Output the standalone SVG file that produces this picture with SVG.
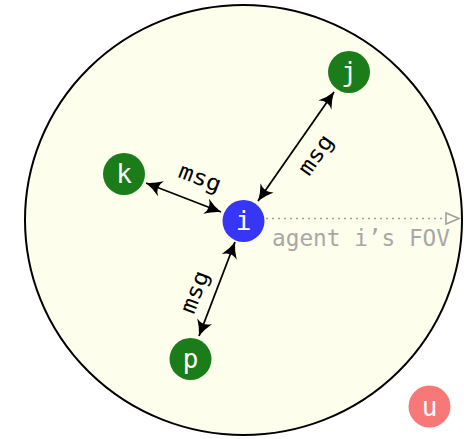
<svg xmlns="http://www.w3.org/2000/svg" width="464" height="439" viewBox="0 0 464 439">
<defs>
<style>
.node{stroke:none}
.lbl{font-family:"DejaVu Sans Mono",monospace;font-size:26px;fill:#ffffff;text-anchor:middle}
.msg{font-family:"DejaVu Sans Mono",monospace;font-size:22px;fill:#000;text-anchor:middle}
.edge{stroke:#000;stroke-width:1.8;fill:none;marker-start:url(#ah);marker-end:url(#ah)}
</style>
<marker id="ah" markerUnits="userSpaceOnUse" markerWidth="20" markerHeight="18" viewBox="-18 -9 20 18" refX="0" refY="0" orient="auto-start-reverse" overflow="visible">
<path d="M0,0 Q-8,-2.5 -16,-8 Q-10,0 -16,8 Q-8,2.5 0,0 Z" fill="#000"/>
</marker>
</defs>
<rect width="464" height="439" fill="#ffffff"/>
<ellipse id="fov" cx="243.5" cy="220" rx="218.5" ry="215" fill="#fefeec" stroke="#000" stroke-width="2"/>
<g id="connectors">
<line class="edge" x1="258" y1="201" x2="334" y2="92"/>
<line class="edge" x1="221" y1="212" x2="146" y2="183"/>
<line class="edge" x1="235" y1="242" x2="199" y2="336"/>
<line x1="266" y1="218.5" x2="446" y2="218.5" stroke="#a0a0a0" stroke-width="1.6" stroke-dasharray="2,4"/>
<polygon points="446,213 459,218.5 446,224" fill="none" stroke="#a0a0a0" stroke-width="1.6"/>
<text class="msg" transform="translate(200,178) rotate(21)" x="0" y="7" textLength="44" lengthAdjust="spacingAndGlyphs">msg</text>
<text class="msg" transform="translate(316,155) rotate(-55)" x="0" y="7" textLength="44" lengthAdjust="spacingAndGlyphs">msg</text>
<text class="msg" transform="translate(195,292) rotate(-69)" x="0" y="7" textLength="44" lengthAdjust="spacingAndGlyphs">msg</text>
</g>
<text x="272" y="246" font-family="DejaVu Sans Mono, monospace" font-size="23" fill="#a8a8a8" textLength="178" lengthAdjust="spacingAndGlyphs">agent i’s FOV</text>
<g id="node-i"><circle class="node" cx="243.5" cy="221" r="21" fill="#3636f4"/><text class="lbl" x="243.5" y="230">i</text></g>
<g id="node-j"><circle class="node" cx="349" cy="72" r="21" fill="#1a7d1a"/><text class="lbl" x="349" y="81">j</text></g>
<g id="node-k"><circle class="node" cx="124" cy="174" r="21" fill="#1a7d1a"/><text class="lbl" x="124" y="183">k</text></g>
<g id="node-p"><circle class="node" cx="190.5" cy="359" r="21" fill="#1a7d1a"/><text class="lbl" x="190.5" y="368">p</text></g>
<g id="node-u"><circle class="node" cx="429.5" cy="406.5" r="21" fill="#f87878"/><text class="lbl" x="429.5" y="415.5">u</text></g>
</svg>
